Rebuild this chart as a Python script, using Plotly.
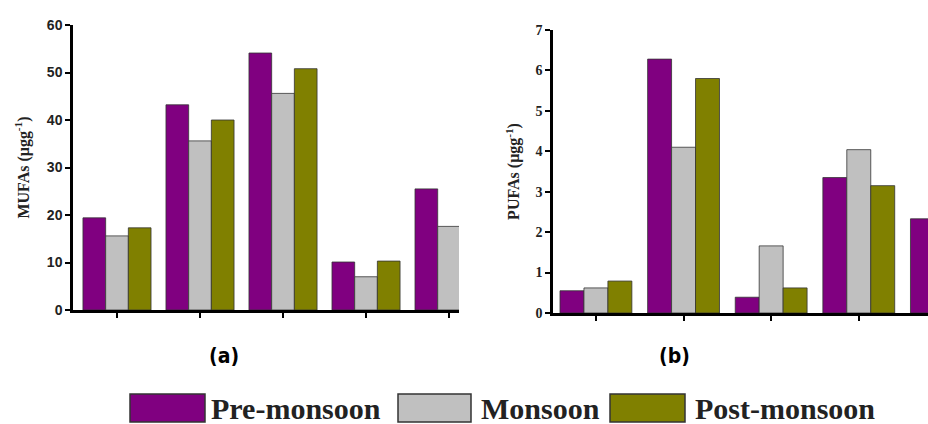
import plotly.graph_objects as go

W, H = 928, 424

sites = ["S1", "S2", "S3", "S4", "S5"]
seasons = ["Pre-monsoon", "Monsoon", "Post-monsoon"]
colors = ["#800080", "#C0C0C0", "#808000"]

mufa_ticks = [0, 10, 20, 30, 40, 50, 60]
pufa_ticks = [0, 1, 2, 3, 4, 5, 6, 7]

mufa_pre = [19.4, 43.2, 54.1, 10.1, 25.5]
mufa_mon = [15.6, 35.6, 45.6, 7.0, 17.6]
mufa_post = [17.3, 40.0, 50.8, 10.3, None]

pufa_pre = [0.55, 6.28, 0.39, 3.35, 2.33]
pufa_mon = [0.62, 4.10, 1.66, 4.04, None]
pufa_post = [0.79, 5.80, 0.62, 3.15, None]

mufa = [mufa_pre, mufa_mon, mufa_post]
pufa = [pufa_pre, pufa_mon, pufa_post]

xidx = list(range(len(sites)))

fig = go.Figure()
for s, c, ya, yb in zip(seasons, colors, mufa, pufa):
    fig.add_trace(go.Bar(x=xidx, y=ya, name=s, marker=dict(color=c, line=dict(color="#333333", width=0.8)),
                         xaxis="x", yaxis="y", showlegend=False))
    fig.add_trace(go.Bar(x=xidx, y=yb, name=s, marker=dict(color=c, line=dict(color="#333333", width=0.8)),
                         xaxis="x2", yaxis="y2", showlegend=False))

def px(x):
    return x / W

def py(y):
    return (H - y) / H

axis_common = dict(showline=True, linecolor="black", linewidth=2.5, ticks="outside",
                   tickcolor="black", tickwidth=2, ticklen=5, showgrid=False, zeroline=False,
                   automargin=False)

fig.update_layout(
    width=W, height=H, margin=dict(l=0, r=0, t=0, b=0, autoexpand=False),
    paper_bgcolor="white", plot_bgcolor="white",
    barmode="group", bargap=0.18, bargroupgap=0,
    xaxis=dict(domain=[px(73), px(459)], range=[-0.53, 4.12], tickvals=xidx,
               showticklabels=False, anchor="y", **axis_common),
    yaxis=dict(domain=[py(310), py(25)], range=[0, 60], tickvals=mufa_ticks,
               ticktext=["<b>%d</b>" % v for v in mufa_ticks],
               anchor="x", tickfont=dict(family="Liberation Sans", size=14, color="#222"),
               title=dict(text="<b>MUFAs (μgg<sup>-1</sup>)</b>", standoff=14,
                          font=dict(family="Liberation Serif", size=16, color="#222")),
               **axis_common),
    xaxis2=dict(domain=[px(553), 1.0], range=[-0.49, 3.79], tickvals=xidx,
                showticklabels=False, anchor="y2", **axis_common),
    yaxis2=dict(domain=[py(313), py(30)], range=[0, 7], tickvals=pufa_ticks,
                ticktext=["<b>%d</b>" % v for v in pufa_ticks],
                anchor="x2", tickfont=dict(family="Liberation Serif", size=14, color="#222"),
                title=dict(text="<b>PUFAs (μgg<sup>-1</sup>)</b>", standoff=12,
                           font=dict(family="Liberation Serif", size=16, color="#222")),
                **axis_common),
)

# panel labels
for lab, xc in [("(a)", 207), ("(b)", 692)]:
    fig.add_annotation(x=px(xc), y=py(370), xref="paper", yref="paper", text="<b>" + lab + "</b>",
                       showarrow=False,
                       font=dict(family="DejaVu Sans Condensed, Liberation Sans Narrow, DejaVu Sans",
                                 size=21, color="black"))

# legend drawn manually
legend_boxes = [(130, 205), (398, 471), (610, 685)]
legend_text_x = [209, 479, 693]
for (x0, x1), tx, s, c in zip(legend_boxes, legend_text_x, seasons, colors):
    fig.add_shape(type="rect", xref="paper", yref="paper", x0=px(x0), x1=px(x1), y0=py(422), y1=py(394),
                  fillcolor=c, line=dict(color="#333333", width=1.5))
    fig.add_annotation(x=px(tx), y=py(408), xref="paper", yref="paper", text="<b>" + s + "</b>",
                       xanchor="left", yanchor="middle", showarrow=False,
                       font=dict(family="Liberation Serif", size=30, color="#222"))

fig.write_html("out.html")
